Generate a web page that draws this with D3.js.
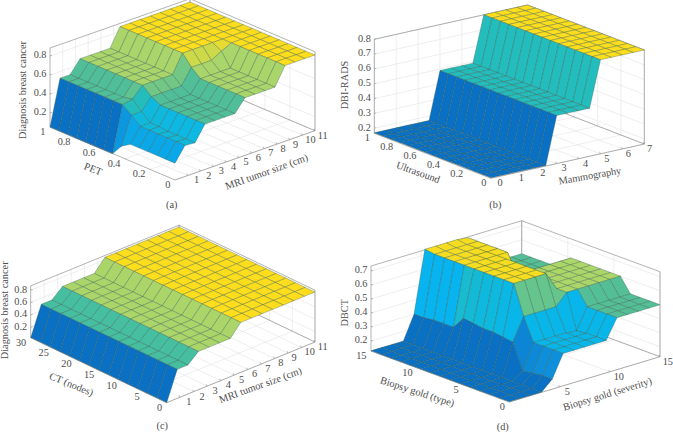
<!DOCTYPE html>
<html><head><meta charset="utf-8">
<script src="https://cdnjs.cloudflare.com/ajax/libs/d3/7.8.5/d3.min.js"></script>
<style>html,body{margin:0;padding:0;background:#fff}svg{display:block}text{font-family:"Liberation Serif",serif;fill:#4d4d4d}</style>
</head><body><div id="c"></div>
<script>
// Surface heights; each row is one step along the left-hand axis (low to high), each column one step along the right-hand axis.
const zA = [
[.23,.38,.37,.53,.53,.53,.53,.66,.66,.66,.66,.85,.85,.85,.85],
[.23,.38,.37,.53,.53,.53,.53,.66,.66,.66,.66,.85,.85,.85,.85],
[.23,.38,.37,.53,.53,.53,.53,.66,.66,.66,.66,.85,.85,.85,.85],
[.23,.38,.37,.53,.53,.53,.53,.66,.66,.66,.66,.85,.85,.85,.85],
[.23,.38,.38,.53,.53,.53,.53,.66,.66,.66,.66,.85,.85,.85,.85],
[.23,.38,.38,.53,.53,.53,.53,.66,.66,.66,.66,.85,.85,.85,.85],
[.17,.46,.46,.58,.58,.58,.58,.74,.74,.74,.80,.85,.85,.85,.85],
[.05,.53,.55,.66,.66,.66,.66,.85,.85,.85,.85,.85,.85,.85,.85],
[.05,.53,.53,.66,.66,.66,.66,.85,.85,.85,.85,.85,.85,.85,.85],
[.05,.53,.53,.66,.66,.66,.66,.85,.85,.85,.85,.85,.85,.85,.85],
[.05,.53,.53,.66,.66,.66,.66,.85,.85,.85,.85,.85,.85,.85,.85],
[.05,.53,.53,.66,.66,.66,.66,.85,.85,.85,.85,.85,.85,.85,.85],
[.05,.53,.53,.66,.66,.66,.66,.85,.85,.85,.85,.85,.85,.85,.85],
[.05,.53,.53,.66,.66,.66,.66,.85,.85,.85,.85,.85,.85,.85,.85],
[.05,.53,.53,.66,.66,.66,.66,.85,.85,.85,.85,.85,.85,.85,.85]];
const zBRow = [.17,.17,.17,.17,.17,.17,.49,.49,.49,.49,.80,.80,.80,.80,.80];
const zB = [zBRow,zBRow,zBRow,zBRow,zBRow,zBRow,zBRow,zBRow,zBRow,zBRow,zBRow,zBRow,zBRow,zBRow,zBRow];
const zCRow = [.03,.50,.50,.65,.65,.65,.65,.84,.84,.84,.84,.84,.84,.84,.84];
const zC = [zCRow,zCRow,zCRow,zCRow,zCRow,zCRow,zCRow,zCRow,zCRow,zCRow,zCRow,zCRow,zCRow,zCRow,zCRow];
const zD = [
[.13,.13,.13,.13,.20,.36,.36,.36,.36,.36,.50,.50,.50,.50,.50],
[.13,.13,.13,.13,.20,.36,.36,.36,.36,.36,.50,.50,.50,.50,.50],
[.13,.13,.13,.13,.19,.36,.36,.36,.36,.36,.50,.50,.50,.50,.50],
[.13,.13,.13,.13,.18,.36,.36,.36,.36,.35,.50,.50,.50,.50,.50],
[.13,.13,.13,.13,.36,.52,.52,.52,.52,.60,.60,.60,.60,.60,.60],
[.13,.13,.13,.13,.37,.73,.73,.73,.73,.60,.60,.60,.60,.60,.60],
[.13,.13,.13,.13,.38,.73,.73,.73,.73,.60,.60,.60,.60,.60,.60],
[.13,.13,.13,.13,.38,.73,.73,.73,.73,.60,.60,.60,.60,.60,.60],
[.13,.13,.13,.13,.39,.73,.73,.73,.73,.60,.60,.60,.60,.60,.60],
[.13,.13,.13,.13,.40,.73,.73,.73,.73,.60,.60,.60,.60,.60,.60],
[.13,.13,.13,.13,.31,.73,.73,.73,.73,.73,.50,.50,.50,.50,.50],
[.13,.13,.13,.13,.31,.73,.73,.73,.73,.73,.50,.50,.50,.50,.50],
[.13,.13,.13,.13,.31,.73,.73,.73,.73,.73,.50,.50,.50,.50,.50],
[.13,.13,.13,.13,.30,.73,.73,.73,.73,.73,.50,.50,.50,.50,.50],
[.13,.13,.13,.13,.30,.74,.74,.74,.74,.73,.50,.50,.50,.50,.50]];

const ticksA = {x:[1,2,3,4,5,6,7,8,9,10,11], y:[0,.2,.4,.6,.8,1], z:[.2,.4,.6,.8]};
const ticksB = {x:[0,1,2,3,4,5,6,7], y:[0,.2,.4,.6,.8,1], z:[.2,.3,.4,.5,.6,.7,.8]};
const ticksC = {x:[1,2,3,4,5,6,7,8,9,10,11], y:[0,5,10,15,20,25,30], z:[.2,.4,.6,.8]};
const ticksD = {x:[5,10,15], y:[0,5,10,15], z:[.2,.3,.4,.5,.6,.7]};

const panels = [
 {z:zA,t:ticksA,xd:[0,11],yd:[0,1],zd:[.053,.884],front:[175,180],left:[50,127],right:[315,130.7],k:95,
  xl:"MRI tumor size (cm)",yl:"PET",zl:"Diagnosis breast cancer",cap:"(a)",
  xp:[267,172.7,-20],yp:[92.7,170,22],zp:[24,90],capP:[171.7,206]},
 {z:zB,t:ticksB,xd:[0,7],yd:[0,1],zd:[.166,.8],front:[491,178.3],left:[374.3,133.3],right:[644.3,144],k:148.3,
  xl:"Mammography",yl:"Ultrasound",zl:"DBI-RADS",cap:"(b)",
  xp:[590,176.7,-10],yp:[417.7,173.3,20],zp:[346,85],capP:[495.3,206]},
 {z:zC,t:ticksC,xd:[0,11],yd:[0,30],zd:[.03,.87],front:[166.7,402.7],left:[30.7,337.7],right:[315,342],k:61.7,
  xl:"MRI tumor size (cm)",yl:"CT (nodes)",zl:"Diagnosis breast cancer",cap:"(c)",
  xp:[260.7,386,-20],yp:[71,385.3,22],zp:[5.3,310.3],capP:[162.3,427]},
 {z:zD,t:ticksD,xd:[0,15],yd:[0,15],zd:[.129,.736],front:[509.3,402],left:[371,351],right:[660,356.7],k:140,
  xl:"Biopsy gold (severity)",yl:"Biopsy gold (type)",zl:"DBCT",cap:"(d)",
  xp:[607.7,395,-17],yp:[417,392.7,18],zp:[346,312.7],capP:[502.7,427.7]}
];

const colorStops = [0,.12,.28,.38,.46,.52,.6,.77,1];
const colorVals = ["#0a70c4","#0d90dc","#08b4f0","#08b6ea","#1cbcc8","#26bdba","#50be98","#add668","#fddd1c"];
const color = d3.scaleLinear().domain(colorStops).range(colorVals);
const svg = d3.select("#c").append("svg").attr("width",673).attr("height",432);
const N = 15;

panels.forEach(p=>{
  const g = svg.append("g");
  const sx = d3.scaleLinear().domain(p.xd).range([0,1]);
  const sy = d3.scaleLinear().domain(p.yd).range([0,1]);
  const sz = d3.scaleLinear().domain(p.zd).range([0,p.k*(p.zd[1]-p.zd[0])]);
  const gi = d3.scaleLinear().domain([0,N-1]);
  const P = (x,y,z)=>{
    const u=sx(x), v=sy(y);
    return [p.front[0]+u*(p.right[0]-p.front[0])+v*(p.left[0]-p.front[0]),
            p.front[1]+u*(p.right[1]-p.front[1])+v*(p.left[1]-p.front[1])-sz(z)];
  };
  const [x0,x1]=p.xd,[y0,y1]=p.yd,[z0,z1]=p.zd;
  const gl=(a,b,c,w)=>g.append("line").attr("x1",a[0]).attr("y1",a[1]).attr("x2",b[0]).attr("y2",b[1]).attr("stroke",c).attr("stroke-width",w);
  const xAll = p.t.x, yAll = p.t.y;
  xAll.forEach(x=>{ gl(P(x,y0,z0),P(x,y1,z0),"#e2e2e2",.6); gl(P(x,y1,z0),P(x,y1,z1),"#e2e2e2",.6); });
  yAll.forEach(y=>{ gl(P(x0,y,z0),P(x1,y,z0),"#e2e2e2",.6); gl(P(x1,y,z0),P(x1,y,z1),"#e2e2e2",.6); });
  p.t.z.forEach(z=>{ gl(P(x0,y1,z),P(x1,y1,z),"#e2e2e2",.6); gl(P(x1,y1,z),P(x1,y0,z),"#e2e2e2",.6); });
  const bc="#808080";
  gl(P(x0,y1,z1),P(x1,y1,z1),bc,.6); gl(P(x1,y1,z1),P(x1,y0,z1),bc,.6);
  gl(P(x1,y1,z0),P(x1,y1,z1),bc,.6); gl(P(x0,y1,z0),P(x1,y1,z0),bc,.6);
  gl(P(x1,y0,z0),P(x1,y1,z0),bc,.6); gl(P(x1,y0,z0),P(x1,y0,z1),bc,.6);
  gl(P(x0,y1,z0),P(x0,y1,z1),bc,.6);
  const xg=gi.copy().range(p.xd), yg=gi.copy().range(p.yd);
  const line=d3.line();
  const cmin=d3.min(p.z.flat()), cmax=d3.max(p.z.flat());
  const t=d3.scaleLinear().domain([cmin,cmax]).range([0,1]);
  for(let i=N-2;i>=0;i--) for(let j=N-2;j>=0;j--){
    const pts=[P(xg(j),yg(i),p.z[i][j]),P(xg(j+1),yg(i),p.z[i][j+1]),P(xg(j+1),yg(i+1),p.z[i+1][j+1]),P(xg(j),yg(i+1),p.z[i+1][j])];
    g.append("path").attr("d",line(pts)+"Z").attr("fill",color(t(p.z[i][j])))
     .attr("stroke","#2f5a4a").attr("stroke-opacity",.65).attr("stroke-width",.5).attr("stroke-linejoin","round");
  }
  gl(P(x0,y0,z0),P(x1,y0,z0),bc,.6); gl(P(x0,y0,z0),P(x0,y1,z0),bc,.6);
  const fs=10.3;
  p.t.x.forEach(x=>{const q=P(x,y0,z0);
    gl(q,[q[0]-1,q[1]-2],bc,.5);
    g.append("text").attr("x",q[0]+6.5-3.8*sx(x)).attr("y",q[1]+5.5).attr("dominant-baseline","middle").attr("font-size",fs).text(x);});
  p.t.y.forEach(y=>{const q=P(x0,y,z0);
    g.append("text").attr("x",q[0]-4.5).attr("y",q[1]+5.5).attr("text-anchor","end").attr("dominant-baseline","middle").attr("font-size",fs).text(y);});
  p.t.z.forEach(z=>{const q=P(x0,y1,z);
    gl(q,[q[0]+2,q[1]-.7],bc,.5);
    g.append("text").attr("x",q[0]-3.5).attr("y",q[1]).attr("text-anchor","end").attr("dominant-baseline","middle").attr("font-size",fs).text(z.toFixed(1));});
  const title=(s,x,y,r)=>g.append("text").attr("transform",`translate(${x},${y}) rotate(${r})`).attr("text-anchor","middle").attr("dominant-baseline","middle").attr("font-size",fs).text(s);
  title(p.xl,...p.xp); title(p.yl,...p.yp); title(p.zl,p.zp[0],p.zp[1],-90);
  title(p.cap,p.capP[0],p.capP[1],0);
});
</script></body></html>
